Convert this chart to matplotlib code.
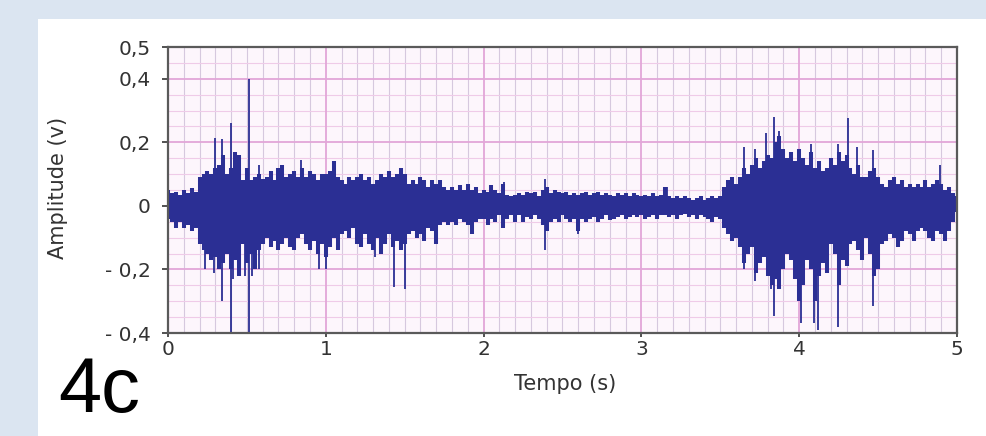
import numpy as np
import matplotlib
matplotlib.use("Agg")
import matplotlib.pyplot as plt
from matplotlib.patches import Rectangle
from matplotlib.ticker import MultipleLocator, FixedLocator

# ---------------- data ----------------
dt = 0.025  # sample spacing of the envelope readings (s)

upper0 = [0.05,0.04,0.045,0.035,0.05,0.04,0.055,0.045,0.09,0.10,
          0.11,0.10,0.12,0.13,0.16,0.10,0.12,0.17,0.16,0.08,
          0.12,0.08,0.09,0.10,0.085,0.09,0.11,0.08,0.12,0.13,
          0.09,0.10,0.11,0.09,0.12,0.09,0.11,0.10,0.08,0.10]
lower0 = [-0.04,-0.05,-0.07,-0.05,-0.07,-0.06,-0.08,-0.07,-0.12,-0.14,
          -0.15,-0.17,-0.16,-0.20,-0.18,-0.15,-0.20,-0.17,-0.22,-0.12,
          -0.18,-0.15,-0.20,-0.14,-0.12,-0.10,-0.13,-0.11,-0.14,-0.12,
          -0.10,-0.13,-0.14,-0.10,-0.09,-0.12,-0.14,-0.11,-0.15,-0.12]
upper1 = [0.10,0.11,0.14,0.09,0.08,0.07,0.09,0.08,0.09,0.10,
          0.08,0.09,0.07,0.08,0.10,0.09,0.11,0.09,0.10,0.12,
          0.10,0.07,0.08,0.07,0.09,0.08,0.06,0.08,0.07,0.08,
          0.06,0.05,0.06,0.05,0.065,0.05,0.07,0.05,0.06,0.04]
lower1 = [-0.16,-0.13,-0.10,-0.14,-0.09,-0.08,-0.10,-0.07,-0.12,-0.13,
          -0.09,-0.12,-0.14,-0.10,-0.15,-0.12,-0.09,-0.13,-0.11,-0.14,
          -0.12,-0.09,-0.08,-0.10,-0.09,-0.11,-0.07,-0.08,-0.12,-0.06,
          -0.05,-0.06,-0.05,-0.06,-0.04,-0.05,-0.06,-0.09,-0.05,-0.04]
upper2 = [0.05,0.045,0.065,0.05,0.04,0.07,0.035,0.03,0.035,0.04,
          0.035,0.045,0.04,0.045,0.03,0.05,0.06,0.04,0.05,0.045,
          0.04,0.045,0.035,0.04,0.035,0.04,0.045,0.035,0.04,0.045,
          0.035,0.04,0.035,0.03,0.04,0.035,0.04,0.03,0.04,0.035]
lower2 = [-0.04,-0.06,-0.04,-0.05,-0.03,-0.07,-0.04,-0.03,-0.05,-0.03,
          -0.05,-0.035,-0.04,-0.03,-0.04,-0.06,-0.08,-0.05,-0.04,-0.05,
          -0.03,-0.04,-0.05,-0.04,-0.08,-0.04,-0.05,-0.04,-0.035,-0.05,
          -0.04,-0.03,-0.045,-0.04,-0.035,-0.03,-0.04,-0.035,-0.03,-0.035]
upper3 = [0.03,0.035,0.03,0.04,0.03,0.035,0.06,0.03,0.025,0.03,
          0.025,0.03,0.025,0.02,0.025,0.03,0.02,0.025,0.03,0.025,
          0.03,0.06,0.08,0.09,0.07,0.09,0.12,0.10,0.13,0.15,
          0.12,0.14,0.16,0.15,0.20,0.22,0.18,0.15,0.17,0.14]
lower3 = [-0.03,-0.04,-0.035,-0.03,-0.04,-0.03,-0.03,-0.035,-0.03,-0.04,
          -0.03,-0.025,-0.035,-0.03,-0.04,-0.03,-0.035,-0.04,-0.05,-0.035,
          -0.04,-0.07,-0.09,-0.11,-0.10,-0.13,-0.18,-0.15,-0.13,-0.21,
          -0.18,-0.16,-0.22,-0.25,-0.23,-0.26,-0.20,-0.15,-0.17,-0.23]
upper4 = [0.18,0.15,0.13,0.17,0.12,0.14,0.11,0.12,0.15,0.13,
          0.17,0.14,0.16,0.12,0.10,0.13,0.09,0.09,0.11,0.12,
          0.09,0.07,0.06,0.08,0.09,0.07,0.08,0.06,0.07,0.06,
          0.07,0.06,0.08,0.06,0.07,0.08,0.07,0.05,0.06,0.04,
          0.03]
lower4 = [-0.30,-0.25,-0.17,-0.20,-0.30,-0.22,-0.18,-0.21,-0.12,-0.15,
          -0.25,-0.17,-0.19,-0.12,-0.11,-0.14,-0.17,-0.10,-0.15,-0.22,
          -0.20,-0.12,-0.11,-0.09,-0.10,-0.13,-0.11,-0.08,-0.09,-0.11,
          -0.08,-0.07,-0.08,-0.10,-0.11,-0.08,-0.09,-0.11,-0.08,-0.05,
          -0.02]

# isolated spikes (time s, amplitude V)
spike_t = [0.235, 0.29, 0.30, 0.34, 0.34, 0.398, 0.398, 0.415, 0.49, 0.513,
           0.513, 0.53, 0.575, 0.575, 0.846, 0.96, 1.0, 1.06, 1.31, 1.43,
           1.47, 1.5, 2.045, 2.13, 2.39, 2.39, 2.6, 3.16, 3.65, 3.65,
           3.72, 3.72, 3.79, 3.82, 3.84, 3.84, 3.87, 3.95, 4.01, 4.075,
           4.095, 4.12, 4.245, 4.245, 4.31, 4.365, 4.47, 4.47, 4.89]
spike_v = [-0.20, -0.21, 0.215, 0.21, -0.30, 0.26, -0.40, -0.23, -0.22, 0.40,
           -0.40, -0.22, 0.13, -0.20, 0.145, -0.20, -0.20, 0.14, -0.16, -0.255,
           0.12, -0.26, 0.065, 0.075, 0.085, -0.14, -0.09, 0.06, 0.185, -0.20,
           0.18, -0.235, 0.23, -0.26, 0.28, -0.345, 0.235, 0.17, -0.37, 0.195,
           -0.37, -0.39, 0.195, -0.38, 0.275, 0.185, 0.175, -0.315, 0.13]

x_ticks = [0, 1, 2, 3, 4, 5]
x_ticklabels = ["0", "1", "2", "3", "4", "5"]
y_ticks = [-0.4, -0.2, 0.0, 0.2, 0.4, 0.5]
y_ticklabels = ["- 0,4", "- 0,2", "0", "0,2", "0,4", "0,5"]

upper = np.array(upper0 + upper1 + upper2 + upper3 + upper4)
lower = np.array(lower0 + lower1 + lower2 + lower3 + lower4)
t = np.arange(len(upper)) * dt

# ---------------- figure ----------------
W, H = 987, 436
fig = plt.figure(figsize=(W / 100, H / 100), dpi=100)
fig.patch.set_facecolor("#dbe5f1")
panel = Rectangle((38 / W, 0), 1 - 38 / W, 1 - 19 / H,
                  transform=fig.transFigure, facecolor="white",
                  edgecolor="none", zorder=-5)
fig.add_artist(panel)

ax = fig.add_axes([168 / W, 1 - 333 / H, (957 - 168) / W, (333 - 47) / H])
ax.set_zorder(2)
ax.set_facecolor("#fdf6fc")
ax.set_xlim(0, 5)
ax.set_ylim(-0.4, 0.5)

# grid
ax.xaxis.set_minor_locator(MultipleLocator(0.1))
ax.yaxis.set_minor_locator(MultipleLocator(0.05))
ax.grid(which="minor", axis="x", color="#d6c8de", linewidth=0.8)
ax.grid(which="minor", axis="y", color="#efcbe8", linewidth=0.8)
ax.set_axisbelow(True)
for xv in x_ticks[1:-1]:
    ax.axvline(xv, color="#e2a6d8", linewidth=1.3, zorder=0.6)
for yv in [-0.2, 0.0, 0.2, 0.4]:
    ax.axhline(yv, color="#e2a6d8", linewidth=1.3, zorder=0.6)

sig_color = "#2b2f94"
ax.vlines(t, lower, upper, colors=sig_color, linewidth=2.9, zorder=2)
ax.vlines(spike_t, 0, spike_v, colors=sig_color, linewidth=1.3, zorder=2)

# ticks
ax.xaxis.set_major_locator(FixedLocator(x_ticks))
ax.set_xticklabels(x_ticklabels)
ax.yaxis.set_major_locator(FixedLocator(y_ticks))
ax.set_yticklabels(y_ticklabels)
ax.tick_params(axis="y", which="major", direction="out", length=4.5, width=1.2,
               pad=8, labelsize=14.5, colors="#333333")
ax.tick_params(axis="x", which="major", direction="out", length=3, width=1.2,
               pad=2, labelsize=14.5, colors="#333333")
ax.tick_params(which="minor", length=0)
for s in ax.spines.values():
    s.set_color("#5a5a5a")
    s.set_linewidth(1.6)

fig.text(565 / W, 1 - 384 / H, "Tempo (s)", ha="center", va="center",
         fontsize=15, color="#333333")
fig.text(58 / W, 1 - 188 / H, "Amplitude (v)", ha="center", va="center",
         rotation=90, fontsize=15, color="#333333")
fig.text(58 / W, 1 - 412 / H, "4c", ha="left", va="baseline",
         fontsize=56, color="black", family="Liberation Sans")

fig.savefig("out.png", dpi=100, facecolor=fig.get_facecolor())
